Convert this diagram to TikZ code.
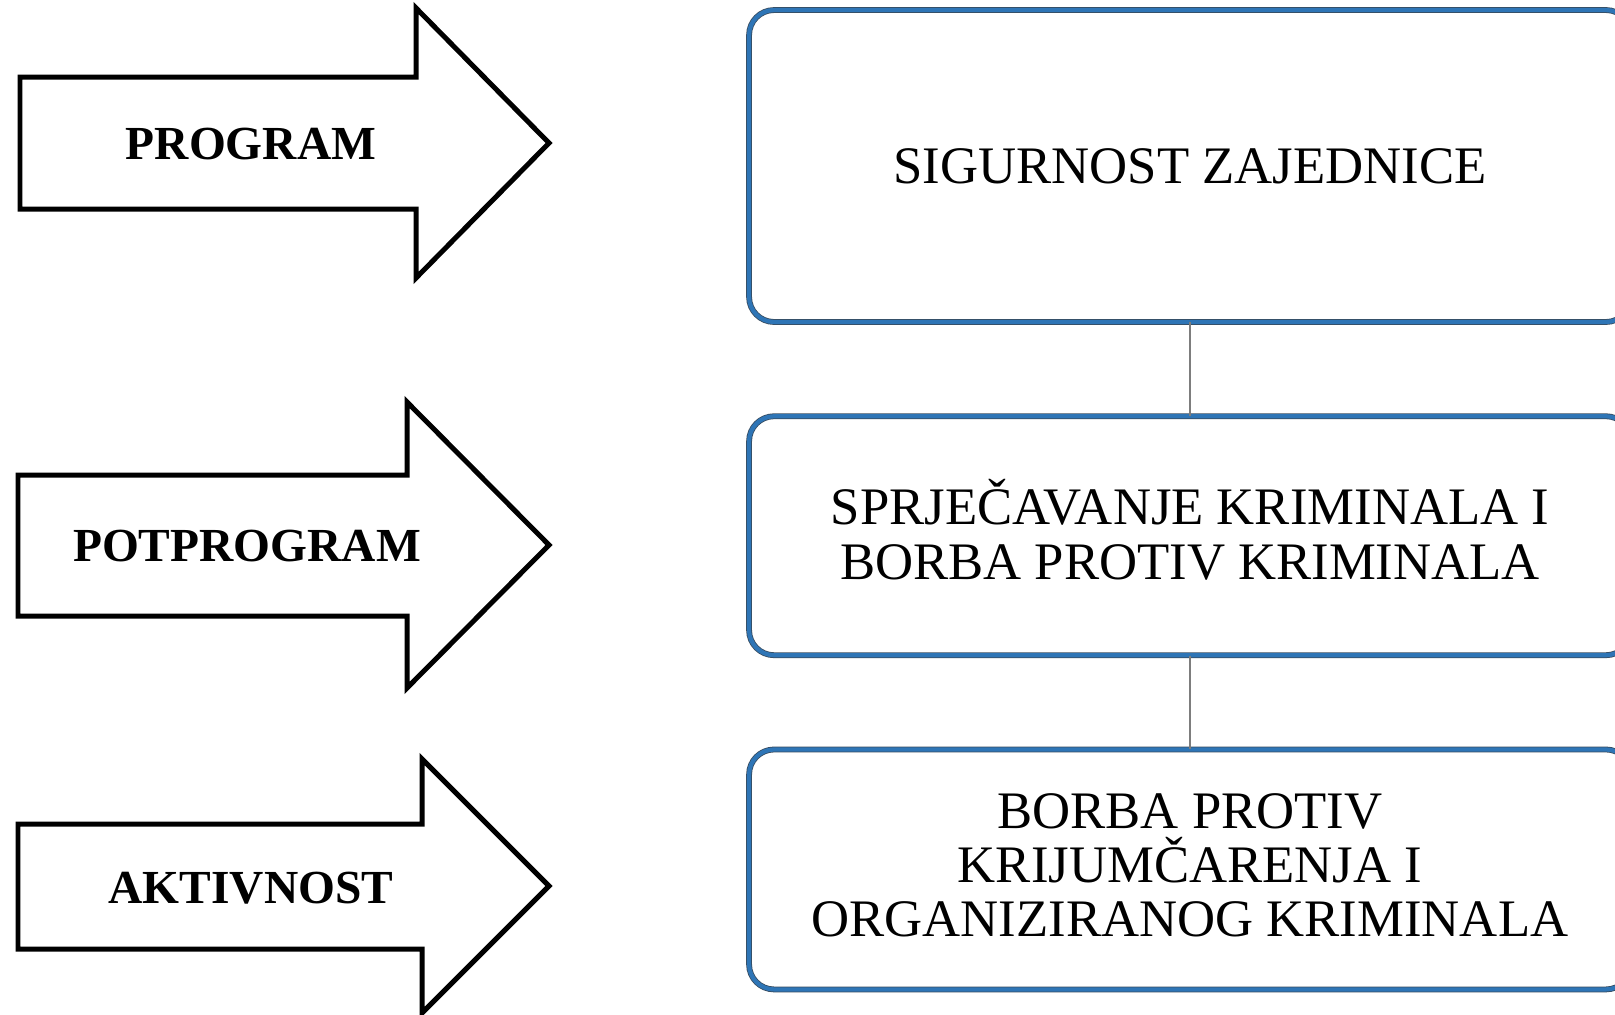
\documentclass[tikz,border=0pt]{standalone}
\usepackage{fontspec}
\setmainfont{Liberation Serif}
\usetikzlibrary{positioning}
\definecolor{boxblue}{RGB}{46,117,182}
\definecolor{boxedge}{RGB}{55,75,95}
\definecolor{linkgray}{RGB}{125,125,125}
\tikzset{
    arrowshape/.style={draw=black, line width=0.1cm, miter limit=10, line join=miter},
    arrowlabel/.style={font=\fontsize{27}{29}\selectfont\bfseries, inner sep=0},
    prgbox/.style={draw=boxedge, double=boxblue, double distance=2.4pt, line width=0.45pt,
        rounded corners=0.5cm, minimum width=17.64cm, inner sep=0, align=center,
        font=\fontsize{30}{30.5}\selectfont},
    link/.style={draw=linkgray, line width=0.8pt},
  }

\begin{document}
\begin{tikzpicture}[x=0.02cm, y=-0.02cm, node distance=1.87cm]
  \clip (0,0) rectangle (1615,1014);
  \fill[white] (0,0) rectangle (1615,1014);

  \draw[arrowshape] (20,77) -- (416,77) -- (416,8) -- (549,143) -- (416,278) -- (416,209) -- (20,209) -- cycle;
  \draw[arrowshape] (18,475) -- (407,475) -- (407,402) -- (549,545) -- (407,688) -- (407,616) -- (18,616) -- cycle;
  \draw[arrowshape] (18,824) -- (422,824) -- (422,759) -- (549,886) -- (422,1013) -- (422,949) -- (18,949) -- cycle;
  \node (prog) [arrowlabel] at (251,144) {PROGRAM};
  \node (potprog) [arrowlabel] at (247,546) {POTPROGRAM};
  \node (aktiv) [arrowlabel] at (251,888) {AKTIVNOST};

  \node (sig) [prgbox, minimum height=6.24cm] at (1190,166) {SIGURNOST ZAJEDNICE};
  \node (sprj) [prgbox, minimum height=4.78cm, text depth=7pt, font=\fontsize{30}{31.5}\selectfont, below=of sig] {SPRJEČAVANJE KRIMINALA I\\BORBA PROTIV KRIMINALA}
      edge [link] (sig);
  \node (borba) [prgbox, minimum height=4.8cm, text depth=5pt, below=of sprj] {BORBA PROTIV\\KRIJUMČARENJA I\\ORGANIZIRANOG KRIMINALA}
      edge [link] (sprj);
\end{tikzpicture}
\end{document}
